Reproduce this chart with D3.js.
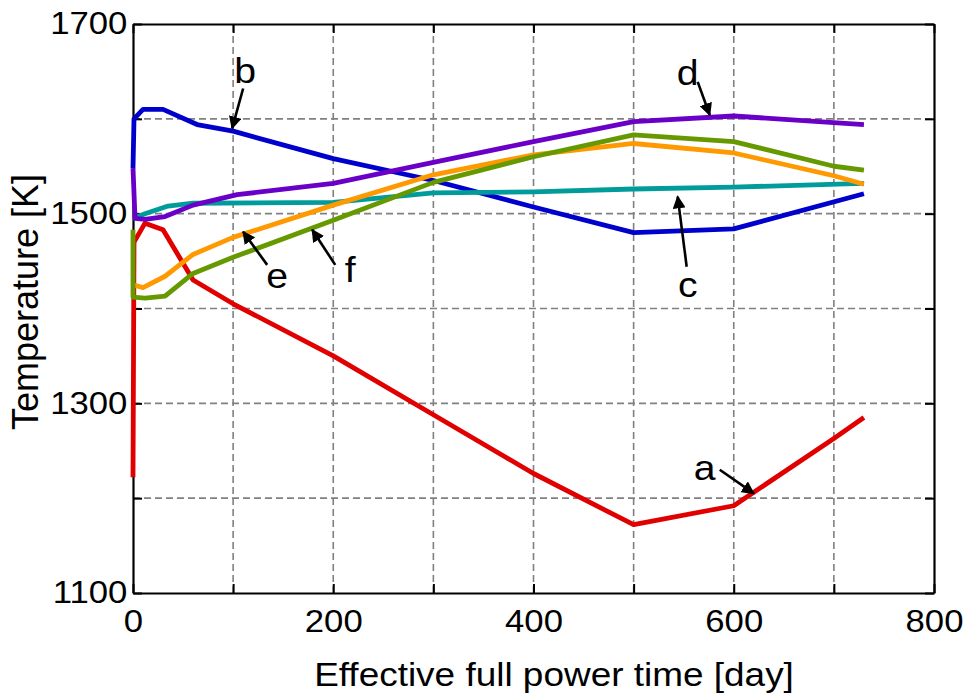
<!DOCTYPE html><meta charset="utf-8">
<title>Temperature vs EFPD</title>
<style>
  body{margin:0;background:#fff}
  svg{display:block}
  text{font-family:"Liberation Sans",Arial,sans-serif;fill:#000}
</style>
<script src="https://d3js.org/d3.v7.min.js"></script>
<body><script>
// ---- data ----
const seriesA = [[0,1222],[1,1470],[12,1490],[30,1483],[60,1430],[100,1405],[200,1350],[300,1288],[400,1226],[500,1172],[600,1192],[700,1263],[730,1285]];
const seriesB = [[0,1548],[1,1600],[10,1610],[30,1610],[64,1594],[100,1587],[200,1558],[300,1535],[400,1507],[500,1480],[600,1484],[730,1521]];
const seriesC = [[0,1495],[12,1500],[35,1508],[60,1511],[200,1512],[300,1522],[400,1523],[500,1526],[600,1528],[730,1532]];
const seriesD = [[0,1548],[2,1495],[12,1494],[32,1497],[60,1509],[104,1520],[200,1532],[300,1554],[400,1576],[500,1597],[600,1603],[730,1594]];
const seriesE = [[0,1425],[10,1422],[32,1434],[60,1457],[100,1475],[200,1509],[300,1541],[400,1562],[500,1574],[600,1564],[700,1540],[730,1531]];
const seriesF = [[0,1483],[0,1412],[12,1411],[32,1413],[60,1437],[100,1454],[200,1493],[300,1533],[400,1560],[500,1583],[600,1576],[700,1550],[730,1546]];
const colors  = ["#e00000","#0000cc","#009b9b","#6a00c8","#ff9900","#669900"];
const xTicks  = [0,200,400,600,800];
const yTicks  = [1100,1300,1500,1700];
// label: [text, text x, text y, arrow start x, y, arrow tip x, y] in data units
const notes = [
  ["a",571,1232,586,1230,620,1205],
  ["b",112,1651,110,1632,99,1590],
  ["c",554,1425,553,1444,544,1518],
  ["d",554,1649,564,1639,576,1604],
  ["e",144,1435,134,1446,110,1481],
  ["f",217,1441,202,1446,179,1483]
];

const W = 970, H = 699;
const m = {l:133, r:36, t:24, b:106};
const SX = 1.12; // the reference text is a little wide
const svg = d3.select("body").append("svg").attr("width",W).attr("height",H);

const x = d3.scaleLinear().domain([0,800]).range([m.l, W-m.r]);
const y = d3.scaleLinear().domain([1100,1700]).range([H-m.b, m.t]);

/* grid */
const grid = svg.append("g").attr("stroke","#808080").attr("stroke-width",1.6)
  .attr("stroke-dasharray","7,4");
grid.selectAll(".gx").data(d3.range(100,800,100)).join("line")
  .attr("x1",d=>x(d)).attr("x2",d=>x(d)).attr("y1",y(1100)).attr("y2",y(1700));
grid.selectAll(".gy").data(d3.range(1200,1700,100)).join("line")
  .attr("y1",d=>y(d)).attr("y2",d=>y(d)).attr("x1",x(0)).attr("x2",x(800));

/* axes: ticks inward on all sides */
const fmt = d=>xTicks.includes(d)?d:"";
const fmtY = d=>yTicks.includes(d)?d:"";
const ax = [
  svg.append("g").attr("transform",`translate(0,${y(1100)})`)
    .call(d3.axisBottom(x).tickValues(d3.range(0,801,100)).tickFormat(fmt).tickSizeInner(-9).tickSizeOuter(0).tickPadding(17)),
  svg.append("g").attr("transform",`translate(0,${y(1700)})`)
    .call(d3.axisTop(x).tickValues(d3.range(0,801,100)).tickFormat("").tickSizeInner(-9).tickSizeOuter(0)),
  svg.append("g").attr("transform",`translate(${x(0)},0)`)
    .call(d3.axisLeft(y).tickValues(d3.range(1100,1701,100)).tickFormat(fmtY).tickSizeInner(-9).tickSizeOuter(0).tickPadding(5)),
  svg.append("g").attr("transform",`translate(${x(800)},0)`)
    .call(d3.axisRight(y).tickValues(d3.range(1100,1701,100)).tickFormat("").tickSizeInner(-9).tickSizeOuter(0))
];
ax.forEach(g=>{
  g.select(".domain").attr("stroke","#000").attr("stroke-width",2.2);
  g.selectAll(".tick line").attr("stroke","#000").attr("stroke-width",2);
  g.selectAll(".tick text").attr("font-size",31).attr("transform",`scale(${SX},1)`)
    .attr("font-family","Liberation Sans, Arial, sans-serif");
});

/* lines */
const line = d3.line().x(d=>x(d[0])).y(d=>y(d[1]));
const all = [seriesA,seriesB,seriesC,seriesD,seriesE,seriesF];
svg.append("g").attr("fill","none").attr("stroke-width",4.8).attr("stroke-linejoin","round")
  .selectAll("path").data(d3.range(all.length)).join("path")
  .attr("stroke",i=>colors[i]).attr("d",i=>line(all[i]));

/* annotations */
svg.append("defs").append("marker").attr("id","ah")
  .attr("viewBox","0 0 10 10").attr("refX",9).attr("refY",5)
  .attr("markerWidth",5).attr("markerHeight",5).attr("orient","auto")
  .append("path").attr("d","M0,0L10,5L0,10z").attr("fill","#000");
const ann = svg.append("g");
ann.selectAll("line").data(notes).join("line")
  .attr("x1",d=>x(d[3])).attr("y1",d=>y(d[4]))
  .attr("x2",d=>x(d[5])).attr("y2",d=>y(d[6]))
  .attr("stroke","#000").attr("stroke-width",2.6).attr("marker-end","url(#ah)");
ann.selectAll("text").data(notes).join("text")
  .attr("transform",d=>`translate(${x(d[1])},${y(d[2])}) scale(${SX},1)`)
  .attr("text-anchor","middle").attr("dy","0.35em").attr("font-size",35)
  .text(d=>d[0]);

/* axis titles */
svg.append("text").attr("transform",`translate(554,686) scale(${SX},1)`)
  .attr("text-anchor","middle").attr("font-size",33)
  .text("Effective full power time [day]");
svg.append("text").attr("transform",`translate(38,302) rotate(-90)`)
  .attr("text-anchor","middle").attr("font-size",36)
  .text("Temperature [K]");
</script>
